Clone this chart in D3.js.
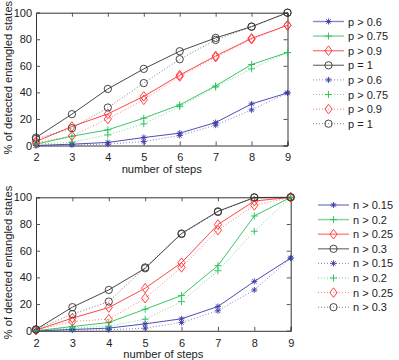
<!DOCTYPE html>
<html>
<head>
<meta charset="utf-8">
<script src="https://cdn.jsdelivr.net/npm/d3@7"></script>
<style>
  body { margin: 0; background: #fff; }
  text { font-family: "Liberation Sans", Arial, sans-serif; fill: #222; }
</style>
</head>
<body>
<script>
// number of steps on the x axis
var steps = [2, 3, 4, 5, 6, 7, 8, 9];
var yTicks = [0, 20, 40, 60, 80, 100];

// top panel: p thresholds (solid then dotted)
var pLabels = ["p > 0.6", "p > 0.75", "p > 0.9", "p = 1"];
var p06 = [0, 1, 2.3, 6, 9.3, 17.3, 31.3, 39.6];
var p075 = [1, 7, 11.8, 20.6, 30.6, 44.9, 61, 70];
var p09 = [3, 14.3, 23.8, 37, 53, 67.4, 80.7, 90.5];
var p1 = [6, 23.6, 42.6, 57.7, 71, 81, 89.5, 100];
var p06dot = [0, 0.5, 1, 3, 7.5, 15.3, 26.8, 39.6];
var p075dot = [1, 2.5, 8, 16.3, 29.3, 44, 57.7, 70];
var p09dot = [2, 7.3, 20, 34.4, 52, 66.5, 80, 90.5];
var p1dot = [5, 13, 28.6, 47, 65, 79.5, 89.5, 100];

// bottom panel: n thresholds (solid then dotted)
var nLabels = ["n > 0.15", "n > 0.2", "n > 0.25", "n > 0.3"];
var n015 = [0, 1, 2, 5.2, 9, 18.2, 37, 54.5];
var n02 = [0, 3.2, 6.2, 16.2, 26.4, 48.8, 86, 100];
var n025 = [0.5, 9.5, 17.4, 31.9, 51, 79.6, 97.2, 100];
var n03 = [1, 17.7, 30.6, 46.8, 72.9, 89.5, 99.8, 100];
var n015dot = [0, 0.5, 0.8, 2, 6.2, 15, 30.6, 54.5];
var n02dot = [0, 2, 3.5, 8.7, 21.9, 45, 74.6, 100];
var n025dot = [0.5, 7, 8.7, 24.4, 47.5, 75.4, 94, 100];
var n03dot = [1, 12.5, 21.9, 47.5, 72.5, 89, 100, 100];

var colors = ["#3a3aa8", "#22c055", "#ff3030", "#333333"];
var markers = ["star", "plus", "diamond", "circle"];

var svg = d3.select("body").append("svg")
  .attr("width", 399).attr("height", 360);

// marker shapes drawn as paths
function markerPath(type) {
  if (type == "circle") return d3.symbol().type(d3.symbolCircle).size(42)();
  if (type == "diamond") {
    var w = 3.6, h = 4.8;
    return "M0," + (-h) + "L" + w + ",0L0," + h + "L" + (-w) + ",0Z";
  }
  if (type == "plus") return "M-3.5,0H3.5M0,-3.5V3.5";
  // asterisk
  var r = 3, d = 2.2;
  return "M-" + r + ",0H" + r + "M0,-" + r + "V" + r +
    "M-" + d + ",-" + d + "L" + d + "," + d + "M-" + d + "," + d + "L" + d + ",-" + d;
}

function panel(opt) {
  var x = d3.scaleLinear().domain([2, 9]).range([opt.left, opt.right]);
  var y = d3.scaleLinear().domain([0, 100]).range([opt.bottom, opt.top]);
  var g = svg.append("g");

  // ticks pointing inwards on all four sides
  g.append("g").attr("transform", "translate(0," + opt.bottom + ")")
    .call(d3.axisBottom(x).tickValues(steps).tickSize(-4).tickPadding(8).tickFormat(d3.format("d")));
  g.append("g").attr("transform", "translate(0," + opt.top + ")")
    .call(d3.axisTop(x).tickValues(steps).tickSize(-4).tickFormat(""));
  g.append("g").attr("transform", "translate(" + opt.left + ",0)")
    .call(d3.axisLeft(y).tickValues(yTicks).tickSize(-4).tickPadding(4));
  g.append("g").attr("transform", "translate(" + opt.right + ",0)")
    .call(d3.axisRight(y).tickValues(yTicks).tickSize(-4).tickFormat(""));
  g.selectAll(".domain").attr("stroke", "#333");
  g.selectAll(".tick line").attr("stroke", "#555");
  g.selectAll(".tick text").attr("font-size", "11px").attr("fill", "#222")
    .attr("font-family", "Liberation Sans, Arial, sans-serif");

  var line = d3.line().x(function(d, i) { return x(steps[i]); }).y(function(d) { return y(d); });

  opt.series.forEach(function(s, k) {
    var c = colors[k % 4];
    var dotted = k >= 4;
    g.append("path").datum(s)
      .attr("d", line)
      .attr("fill", "none")
      .attr("stroke", c)
      .attr("stroke-width", 0.9)
      .attr("stroke-dasharray", dotted ? "1,2" : null)
      .attr("opacity", dotted ? 0.7 : 1);
    g.selectAll(null).data(s).enter().append("path")
      .attr("transform", function(d, i) { return "translate(" + x(steps[i]) + "," + y(d) + ")"; })
      .attr("d", markerPath(markers[k % 4]))
      .attr("fill", "none")
      .attr("stroke", c)
      .attr("stroke-width", 0.9);
  });

  // legend
  var lg = g.append("g");
  opt.series.forEach(function(s, k) {
    var c = colors[k % 4];
    var yy = opt.legTop + k * 14.6;
    lg.append("line")
      .attr("x1", opt.legX).attr("x2", opt.legX + 31)
      .attr("y1", yy).attr("y2", yy)
      .attr("stroke", c).attr("stroke-width", k < 4 ? 1.4 : 0.9)
      .attr("opacity", k < 4 ? 0.6 : 0.7)
      .attr("stroke-dasharray", k >= 4 ? "1,2" : null);
    lg.append("path")
      .attr("transform", "translate(" + (opt.legX + 15.5) + "," + yy + ")")
      .attr("d", markerPath(markers[k % 4]))
      .attr("fill", "none").attr("stroke", c).attr("stroke-width", 0.9);
    lg.append("text")
      .attr("x", opt.legX + 35).attr("y", yy + 4)
      .attr("font-size", "11px")
      .text(opt.labels[k % 4]);
  });

  g.append("text")
    .attr("x", (opt.left + opt.right) / 2).attr("y", opt.bottom + 27)
    .attr("text-anchor", "middle").attr("font-size", "11.2px")
    .text("number of steps");
  g.append("text")
    .attr("transform", "translate(12," + ((opt.top + opt.bottom) / 2 - 1.5) + ") rotate(-90)")
    .attr("text-anchor", "middle").attr("font-size", "11.2px")
    .text("% of detected entangled states");
}

panel({
  left: 36, right: 287.5, top: 12.7, bottom: 145.5,
  series: [p06, p075, p09, p1, p06dot, p075dot, p09dot, p1dot],
  labels: pLabels, legX: 313, legTop: 21.5
});

panel({
  left: 36, right: 290.7, top: 197.3, bottom: 330.8,
  series: [n015, n02, n025, n03, n015dot, n02dot, n025dot, n03dot],
  labels: nLabels, legX: 318, legTop: 205
});
</script>
</body>
</html>
